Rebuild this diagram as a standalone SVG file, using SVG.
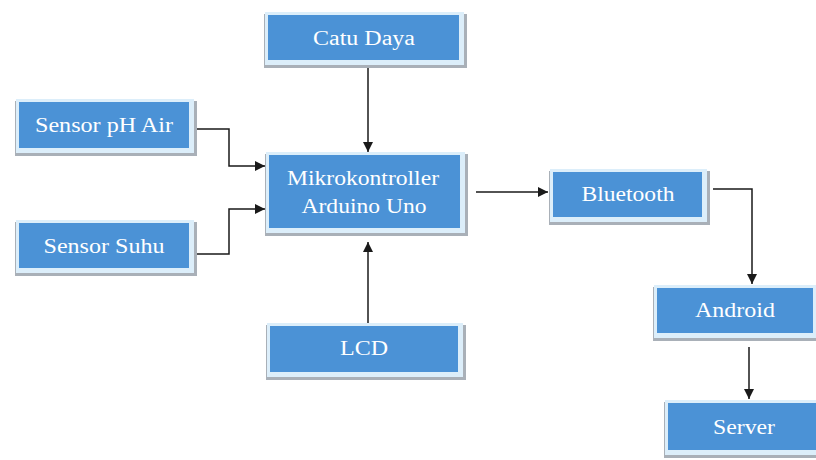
<svg xmlns="http://www.w3.org/2000/svg" width="816" height="460" viewBox="0 0 816 460">
<defs>
<style>
.sh{fill:#a9b0b8}
.bd{fill:#dceefa}
.bx{fill:#4b92d6}
.t{font-family:"Liberation Serif","Times New Roman",serif;font-size:20px;fill:#ffffff;text-anchor:middle}
.c{fill:none;stroke:#1a1a1a;stroke-width:1.5}
</style>
<marker id="ah" viewBox="0 0 10 10" refX="10" refY="5" markerWidth="10" markerHeight="10" markerUnits="userSpaceOnUse" orient="auto">
<path d="M0,0 L10,5 L0,10 Z" fill="#1a1a1a"/>
</marker>
</defs>
<rect width="816" height="460" fill="#ffffff"/>
<g id="connectors">
<path class="c" d="M368,65 L368,152" marker-end="url(#ah)"/>
<path class="c" d="M194,129 L229,129 L229,166 L265,166" marker-end="url(#ah)"/>
<path class="c" d="M194,254 L229,254 L229,209 L265,209" marker-end="url(#ah)"/>
<path class="c" d="M368,323 L368,242" marker-end="url(#ah)"/>
<path class="c" d="M476,192 L548,192" marker-end="url(#ah)"/>
<path class="c" d="M713,189 L752,189 L752,284" marker-end="url(#ah)"/>
<path class="c" d="M749,347 L749,399" marker-end="url(#ah)"/>
</g>
<g id="catu-daya">
<rect class="sh" x="264" y="14" width="203" height="54"/>
<rect class="bd" x="265" y="12" width="199" height="53"/>
<rect class="bx" x="268" y="15" width="191" height="45"/>
<text class="t" x="364" y="45" textLength="102" lengthAdjust="spacingAndGlyphs">Catu Daya</text>
</g>
<g id="sensor-ph">
<rect class="sh" x="15" y="101" width="182" height="55"/>
<rect class="bd" x="16" y="99" width="178" height="54"/>
<rect class="bx" x="19" y="102" width="170" height="46"/>
<text class="t" x="104" y="132" textLength="138" lengthAdjust="spacingAndGlyphs">Sensor pH Air</text>
</g>
<g id="mikrokontroller">
<rect class="sh" x="265" y="154" width="203" height="82"/>
<rect class="bd" x="266" y="152" width="199" height="81"/>
<rect class="bx" x="269" y="155" width="191" height="73"/>
<text class="t" x="363" y="185" textLength="152" lengthAdjust="spacingAndGlyphs">Mikrokontroller</text>
<text class="t" x="364" y="213" textLength="125" lengthAdjust="spacingAndGlyphs">Arduino Uno</text>
</g>
<g id="sensor-suhu">
<rect class="sh" x="15" y="222" width="182" height="54"/>
<rect class="bd" x="16" y="220" width="178" height="53"/>
<rect class="bx" x="19" y="223" width="170" height="45"/>
<text class="t" x="104" y="253" textLength="121" lengthAdjust="spacingAndGlyphs">Sensor Suhu</text>
</g>
<g id="lcd">
<rect class="sh" x="266" y="325" width="200" height="55"/>
<rect class="bd" x="267" y="323" width="196" height="54"/>
<rect class="bx" x="270" y="326" width="188" height="46"/>
<text class="t" x="364" y="355" textLength="48" lengthAdjust="spacingAndGlyphs">LCD</text>
</g>
<g id="bluetooth">
<rect class="sh" x="549" y="171" width="161" height="54"/>
<rect class="bd" x="550" y="169" width="157" height="53"/>
<rect class="bx" x="553" y="172" width="149" height="45"/>
<text class="t" x="628" y="201" textLength="93" lengthAdjust="spacingAndGlyphs">Bluetooth</text>
</g>
<g id="android">
<rect class="sh" x="653" y="287" width="168" height="54"/>
<rect class="bd" x="654" y="285" width="164" height="53"/>
<rect class="bx" x="657" y="288" width="156" height="45"/>
<text class="t" x="735" y="317" textLength="80" lengthAdjust="spacingAndGlyphs">Android</text>
</g>
<g id="server">
<rect class="sh" x="664" y="402" width="160" height="56"/>
<rect class="bd" x="665" y="400" width="156" height="55"/>
<rect class="bx" x="668" y="403" width="148" height="47"/>
<text class="t" x="744" y="434" textLength="62" lengthAdjust="spacingAndGlyphs">Server</text>
</g>
</svg>
